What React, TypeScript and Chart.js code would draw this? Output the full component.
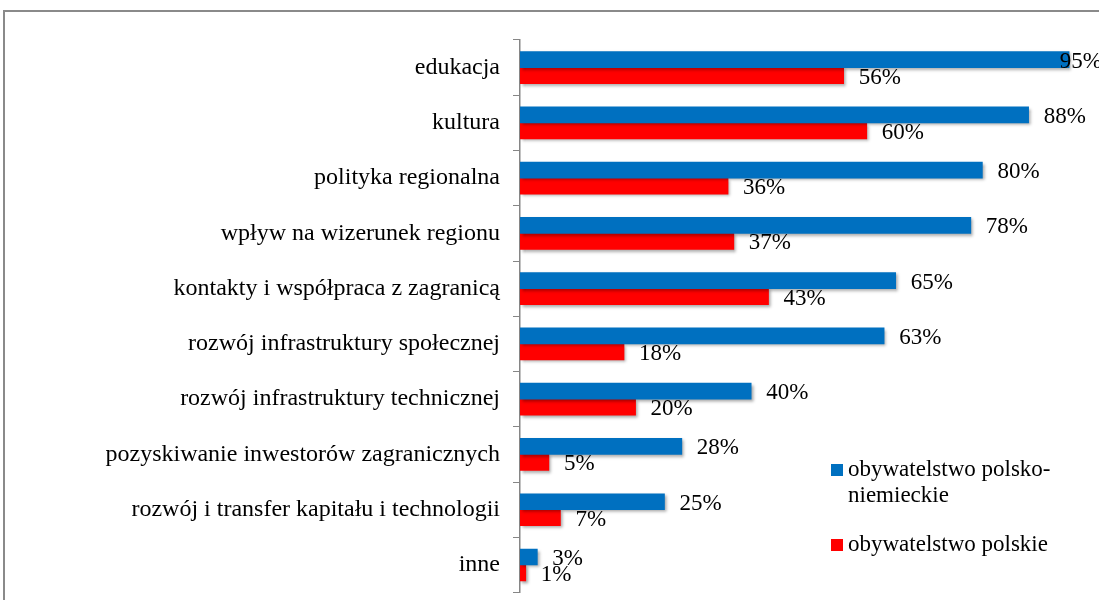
import React, { useEffect, useRef } from "react";
import { Chart, registerables } from "chart.js";

Chart.register(...registerables);

const categories = [
  "edukacja",
  "kultura",
  "polityka regionalna",
  "wpływ na wizerunek regionu",
  "kontakty i współpraca z zagranicą",
  "rozwój infrastruktury społecznej",
  "rozwój infrastruktury technicznej",
  "pozyskiwanie inwestorów zagranicznych",
  "rozwój i transfer kapitału i technologii",
  "inne",
];

const polskoNiemieckie = [95, 88, 80, 78, 65, 63, 40, 28, 25, 3];
const polskie = [56, 60, 36, 37, 43, 18, 20, 5, 7, 1];

const seriesNames = ["obywatelstwo polsko-niemieckie", "obywatelstwo polskie"];
const legendLines = [["obywatelstwo polsko-", "niemieckie"], ["obywatelstwo polskie"]];
const seriesColors = ["#0070C0", "#FF0000"];

const FONT_FAMILY = "'Liberation Serif', 'Times New Roman', serif";
const FONT_SIZE = 23;
const TICK_FONT_SIZE = 24;

const shadowPlugin = {
  id: "barShadow",
  beforeDatasetsDraw(chart: any) {
    const ctx = chart.ctx;
    ctx.save();
    ctx.shadowColor = "rgba(0,0,0,0.35)";
    ctx.shadowOffsetX = 2;
    ctx.shadowOffsetY = 2;
    ctx.shadowBlur = 3;
  },
  afterDatasetsDraw(chart: any) {
    chart.ctx.restore();
  },
};

const labelPlugin = {
  id: "valueLabels",
  afterDatasetsDraw(chart: any) {
    const ctx = chart.ctx;
    const area = chart.chartArea;
    ctx.save();
    ctx.font = `${FONT_SIZE}px ${FONT_FAMILY}`;
    ctx.fillStyle = "#000";
    ctx.textAlign = "left";
    ctx.textBaseline = "middle";
    chart.data.datasets.forEach((ds: any, di: number) => {
      const meta = chart.getDatasetMeta(di);
      meta.data.forEach((bar: any, i: number) => {
        const text = `${ds.data[i]}%`;
        const w = ctx.measureText(text).width;
        let x = bar.x + 15;
        if (x + w > area.right + 2) x = area.right - w + 4;
        ctx.fillText(text, x, bar.y + 2);
      });
    });
    ctx.restore();
  },
};

const legendPlugin = {
  id: "customLegend",
  afterDraw(chart: any) {
    const ctx = chart.ctx;
    const area = chart.chartArea;
    ctx.save();
    ctx.font = `${FONT_SIZE}px ${FONT_FAMILY}`;
    ctx.fillStyle = "#000";
    ctx.textBaseline = "middle";
    const boxX = area.left + 311;
    const textX = area.left + 328;
    const startYs = [area.top + 430, area.top + 505];
    chart.data.datasets.forEach((ds: any, di: number) => {
      const y0 = startYs[di];
      ctx.fillStyle = ds.backgroundColor;
      ctx.fillRect(boxX, y0 - 6, 12, 12);
      ctx.fillStyle = "#000";
      legendLines[di].forEach((line, li) => {
        ctx.fillText(line, textX, y0 + li * 26);
      });
    });
    ctx.restore();
  },
};

export default function App() {
  const canvasRef = useRef<HTMLCanvasElement | null>(null);

  useEffect(() => {
    if (!canvasRef.current) return;
    const chart = new Chart(canvasRef.current, {
      type: "bar",
      data: {
        labels: categories,
        datasets: [
          {
            label: seriesNames[0],
            data: polskoNiemieckie,
            backgroundColor: seriesColors[0],
            barThickness: 16,
          },
          {
            label: seriesNames[1],
            data: polskie,
            backgroundColor: seriesColors[1],
            barThickness: 16,
          },
        ],
      },
      options: {
        indexAxis: "y",
        responsive: false,
        animation: false,
        devicePixelRatio: 1,
        layout: { padding: { top: 40, bottom: 22, left: 0, right: 12 } },
        plugins: {
          legend: { display: false },
          tooltip: { enabled: false },
        },
        scales: {
          x: { display: false, min: 0, max: 100 },
          y: {
            grid: {
              drawOnChartArea: false,
              offset: true,
              tickLength: 7,
              color: "#868686",
            },
            border: { color: "#868686", width: 1.5 },
            ticks: {
              color: "#000",
              padding: 13,
              font: { family: FONT_FAMILY, size: TICK_FONT_SIZE },
            },
            afterFit: (scale: any) => {
              scale.width = 520;
            },
          },
        },
      },
      plugins: [shadowPlugin, labelPlugin, legendPlugin],
    } as any);
    return () => chart.destroy();
  }, []);

  return (
    <div
      style={{
        position: "fixed",
        left: 0,
        top: 0,
        width: 1099,
        height: 600,
        overflow: "hidden",
        background: "#fff",
      }}
    >
      <div
        style={{
          position: "absolute",
          left: 3,
          top: 10,
          width: 1200,
          height: 700,
          border: "2px solid #8a8a8a",
        }}
      />
      <canvas
        ref={canvasRef}
        width={1110}
        height={620}
        style={{ position: "absolute", left: 0, top: 0 }}
      />
    </div>
  );
}
